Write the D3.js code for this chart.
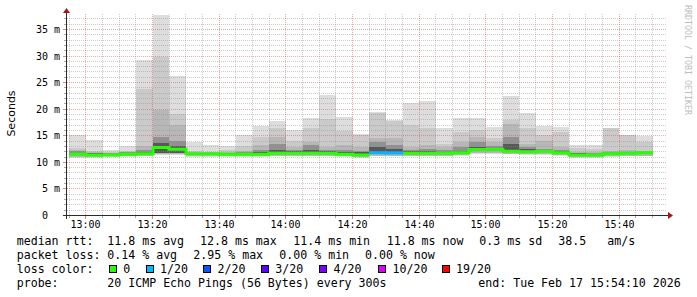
<!DOCTYPE html>
<html><head><meta charset="utf-8">
<script src="https://cdn.jsdelivr.net/npm/d3@7"></script>
<style>
html,body{margin:0;padding:0;background:#fff;}
svg{display:block;}
</style></head><body>
<svg id="chart" width="697" height="297"></svg>
<script>
// ---- data (ms), one value per 5-minute bar starting 12:55 ----
const pingMax = [15.2,14.2,12.4,13.1,29.3,37.7,26.2,13.9,13.3,13.1,15.1,16.9,17.8,16.0,18.4,22.7,18.6,15.4,19.4,18.0,21.1,21.5,16.4,18.4,18.4,16.6,22.4,19.2,16.9,16.6,13.3,13.2,16.5,15.2,14.9];
const ping19  = [12.7,12.2,11.9,12.2,23.8,29.8,19.1,12.2,12.0,12.4,13.1,14.8,16.4,14.1,16.4,18.2,15.9,15.1,19.2,17.8,17.0,16.4,13.5,15.7,16.0,14.6,18.0,16.4,15.1,15.7,12.7,12.5,16.4,15.1,13.9];
const ping18  = [12.4,12.0,11.8,12.0,13.1,19.9,17.1,11.9,11.9,12.0,12.2,13.3,14.8,12.9,13.8,12.9,13.2,12.9,14.6,14.5,12.9,13.2,12.9,13.8,14.8,13.8,17.3,13.5,14.1,12.9,12.0,11.9,12.2,12.4,12.2];
const ping16  = [12.1,11.8,11.7,11.9,12.4,14.7,14.1,11.8,11.8,11.8,12.0,12.3,13.5,12.4,13.2,12.4,12.4,12.2,13.8,13.3,12.4,12.6,12.3,12.8,13.8,13.0,14.8,12.9,12.6,12.4,11.8,11.7,11.9,12.0,12.0];
const ping13  = [11.8,11.7,11.6,11.8,12.0,13.6,13.0,11.7,11.7,11.7,11.8,11.9,12.3,12.1,12.3,12.1,12.0,11.9,12.8,12.6,12.1,12.2,12.0,12.2,12.8,12.7,13.5,12.5,12.4,12.1,11.7,11.6,11.8,11.9,11.9];
const ping8   = [11.4,11.3,11.3,11.4,11.5,11.85,11.85,11.5,11.5,11.4,11.4,11.4,11.6,11.6,11.6,11.6,11.4,11.3,11.7,11.6,11.6,11.6,11.6,11.7,12.2,12.2,11.9,11.8,11.9,11.6,11.2,11.2,11.4,11.5,11.6];
const ping3   = [11.0,11.0,11.1,11.1,11.2,11.5,11.5,11.1,11.1,11.1,11.1,11.1,11.2,11.2,11.2,11.2,11.1,11.0,11.2,11.2,11.2,11.2,11.2,11.3,11.7,11.7,11.6,11.5,11.5,11.3,11.0,11.0,11.1,11.2,11.2];
const pingMin = [10.8,10.9,11.0,11.0,11.1,11.35,11.35,11.0,11.0,11.0,11.0,11.0,11.1,11.1,11.1,11.1,11.0,10.9,11.1,11.1,11.1,11.1,11.1,11.2,11.6,11.6,11.5,11.4,11.4,11.2,10.9,10.9,11.0,11.1,11.1];
const median  = [11.5,11.4,11.4,11.5,11.6,12.8,12.45,11.6,11.6,11.5,11.5,11.5,11.7,11.7,11.7,11.7,11.5,11.4,11.8,11.75,11.7,11.7,11.7,11.8,12.4,12.4,12.1,12.0,12.1,11.8,11.4,11.4,11.6,11.7,11.8];
const lossPings = [0,0,0,0,0,0,0,0,0,0,0,0,0,0,0,0,0,0,1,1,0,0,0,0,0,0,0,0,0,0,0,0,0,0,0];

const yTickValues = [0,5,10,15,20,25,30,35];
const yTickLabels = ["0  ","5 m","10 m","15 m","20 m","25 m","30 m","35 m"];
const xTickLabels = ["13:00","13:20","13:40","14:00","14:20","14:40","15:00","15:20","15:40"];

const lossThresholds = [0,1,2,3,4,10,19];
const lossLabels = ["0","1/20","2/20","3/20","4/20","10/20","19/20"];
const lossColors = ["#26ff00","#00b8ff","#0059ff","#5e00ff","#7e00ff","#dd00ff","#ff0000"];

const statsLine1 = ["median rtt:","11.8 ms avg","12.8 ms max","11.4 ms min","11.8 ms now","0.3 ms sd","38.5","am/s"];
const statsLine2 = ["packet loss:","0.14 % avg","2.95 % max","0.00 % min","0.00 % now"];
const probeLine = ["probe:","20 ICMP Echo Pings (56 Bytes) every 300s","end: Tue Feb 17 15:54:10 2026"];

// ---- layout ----
const svg = d3.select("#chart");
const MONO = "'DejaVu Sans Mono', monospace";
const t0 = new Date(2026,1,17,12,54,10), t1 = new Date(2026,1,17,15,54,10);
const x = d3.scaleTime().domain([t0,t1]).range([66.5,666.5]);
const y = d3.scaleLinear().domain([0,38]).range([215.5,13.5]);
const barStart = d3.range(pingMax.length).map(k => new Date(2026,1,17,12,55+5*k,0));
const barEnd = barStart.map(d => d3.timeMinute.offset(d,5));

svg.append("rect").attr("width",697).attr("height",297).attr("fill","#fff");

// smoke levels (outer -> inner)
const levels = [
  {lo: pingMin, hi: pingMax, c: "#dddddd"},
  {lo: ping3,   hi: ping19,  c: "#cacaca"},
  {lo: ping3,   hi: ping18,  c: "#b7b7b7"},
  {lo: ping8,   hi: ping16,  c: "#919191"},
  {lo: ping8,   hi: ping13,  c: "#585858"}
];
const gSmoke = svg.append("g").attr("shape-rendering","crispEdges");
levels.forEach(L => {
  gSmoke.append("g").selectAll("rect").data(d3.range(pingMax.length)).join("rect")
    .attr("x", k => Math.round(x(barStart[k])))
    .attr("width", k => Math.round(x(barEnd[k])) - Math.round(x(barStart[k])))
    .attr("y", k => Math.round(y(L.hi[k])))
    .attr("height", k => Math.max(0, Math.round(y(L.lo[k])) - Math.round(y(L.hi[k]))))
    .attr("fill", L.c);
});

// grid (drawn on top, like rrdtool)
const gGrid = svg.append("g").attr("shape-rendering","crispEdges");
const minorCol = "rgba(143,143,143,0.45)", majorCol = "rgba(222,80,80,0.5)";
const fx = v => Math.floor(x(v)) + 0.5, fy = v => Math.floor(y(v)) + 0.5;
const fiveMin = d3.timeMinute.every(5).range(t0, t1);
fiveMin.forEach(t => {
  const major = t.getMinutes() % 20 === 0;
  gGrid.append("line").attr("x1",fx(t)).attr("x2",fx(t)).attr("y1",13.5).attr("y2",215)
    .attr("stroke", major ? majorCol : minorCol).attr("stroke-dasharray","1,1");
  gGrid.append("line").attr("x1",fx(t)).attr("x2",fx(t)).attr("y1",216).attr("y2", major?219:218)
    .attr("stroke", major ? "#d88" : "#aaa");
});
d3.range(1,38).forEach(v => {
  const major = v % 5 === 0;
  gGrid.append("line").attr("x1",67).attr("x2",666.5).attr("y1",fy(v)).attr("y2",fy(v))
    .attr("stroke", major ? majorCol : minorCol).attr("stroke-dasharray","1,1");
  gGrid.append("line").attr("x1", major?63:64).attr("x2",66).attr("y1",fy(v)).attr("y2",fy(v))
    .attr("stroke", major ? "#d88" : "#aaa");
});

// median line, coloured by loss
function lossIndex(l){ let i=0; lossThresholds.forEach((t,j)=>{ if(l>=t) i=j; }); return i; }
const line = d3.line().defined(d => d !== null).x(d => Math.round(x(d[0]))).y(d => y(d[1]));
lossColors.forEach((col, ci) => {
  const pts = [];
  median.forEach((m,k) => {
    if (lossIndex(lossPings[k]) === ci) { pts.push([barStart[k], m]); pts.push([barEnd[k], m]); }
    else pts.push(null);
  });
  if (pts.some(p => p)) svg.append("path").attr("d", line(pts)).attr("fill","none")
    .attr("stroke", col).attr("stroke-width",3).attr("stroke-linejoin","miter");
});

// axes
const gAx = svg.append("g").attr("shape-rendering","crispEdges");
gAx.append("line").attr("x1",63).attr("x2",669).attr("y1",215.5).attr("y2",215.5).attr("stroke","#2c2c2c");
gAx.append("line").attr("x1",66.5).attr("x2",66.5).attr("y1",219).attr("y2",12).attr("stroke","#2c2c2c");
svg.append("path").attr("d","M668,212L673,215.5L668,219Z").attr("fill","#a01818");
svg.append("path").attr("d","M63,13L66.5,8L70,13Z").attr("fill","#a01818");

// tick labels
svg.append("g").selectAll("text").data(yTickValues).join("text")
  .attr("x",60).attr("y", v => fy(v) + 3.5).attr("text-anchor","end")
  .attr("xml:space","preserve").style("white-space","pre")
  .attr("font-family",MONO).attr("font-size","10px").attr("fill","#000")
  .text((v,i) => yTickLabels[i]);
svg.append("g").selectAll("text").data(xTickLabels).join("text")
  .attr("x", s => { const [h,m] = s.split(":").map(Number); return fx(new Date(2026,1,17,h,m,0)); })
  .attr("y",228).attr("text-anchor","middle")
  .attr("font-family",MONO).attr("font-size","10px").attr("fill","#000")
  .text(s => s);

// axis title + watermark
svg.append("text").attr("transform","translate(15,113.5) rotate(-90)").attr("text-anchor","middle")
  .attr("font-family","'DejaVu Sans', sans-serif").attr("font-size","11px").attr("fill","#000").text("Seconds");
svg.append("text").attr("transform","translate(685,5) rotate(90)").attr("text-anchor","start")
  .attr("font-family",MONO).attr("font-size","8.3px").attr("fill","#bdbdbd").text("RRDTOOL / TOBI OETIKER");

// legend
const lg = svg.append("g").attr("font-family",MONO).attr("font-size","11.6px").attr("fill","#000");
const line1X = [16.7,107.3,200,293.3,386.7,479.3,558.3,607.3];
statsLine1.forEach((s,i) => lg.append("text").attr("x",line1X[i]).attr("y",244.5).text(s));
const line2X = [16.7,107.3,193.3,279.3,365];
statsLine2.forEach((s,i) => lg.append("text").attr("x",line2X[i]).attr("y",258.5).text(s));
lg.append("text").attr("x",16.7).attr("y",272.5).text("loss color:");
const boxX = [109,145.7,203.3,261,319.3,378.3,441.7];
lossLabels.forEach((s,i) => {
  lg.append("rect").attr("x",Math.round(boxX[i])+0.5).attr("y",265.5).attr("width",7).attr("height",7)
    .attr("fill",lossColors[i]).attr("stroke","#000").attr("stroke-width",1);
  lg.append("text").attr("x",boxX[i]+14.3).attr("y",272.5).text(s);
});
const line4X = [16.7,107.3,478.3];
probeLine.forEach((s,i) => lg.append("text").attr("x",line4X[i]).attr("y",286.5).text(s));
</script>
</body></html>
